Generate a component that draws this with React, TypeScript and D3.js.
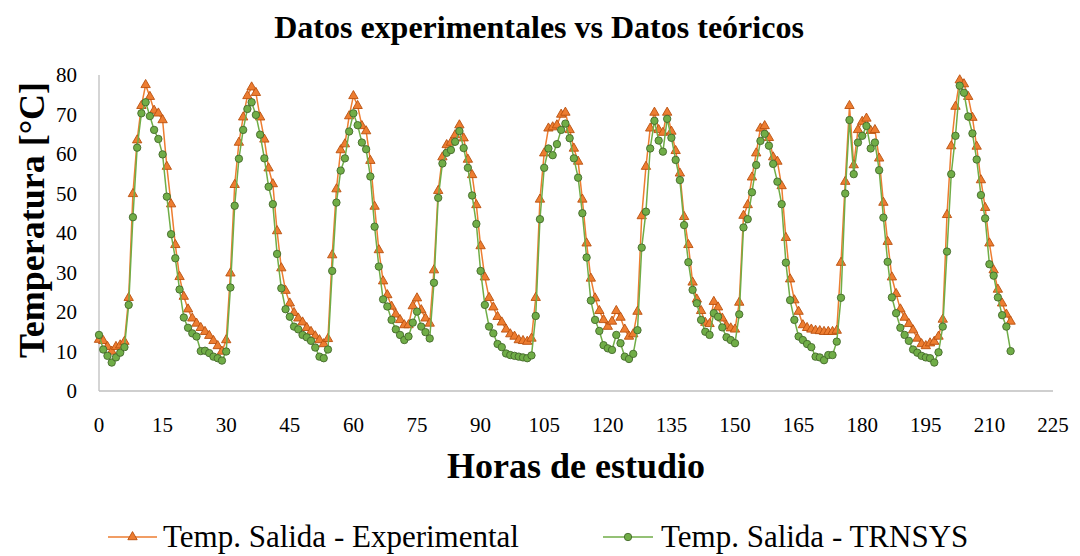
import React from 'react';
import * as d3 from 'd3';

const experimental: number[] = [
  13.0, 12.7, 11.2, 10.0, 11.2, 11.6, 12.5, 23.6, 49.9, 63.5,
  72.2, 77.5, 74.5, 71.0, 70.3, 68.6, 56.8, 47.3, 37.0, 28.9,
  23.9, 20.7, 18.4, 17.1, 16.0, 15.0, 14.0, 12.7, 11.4, 10.0,
  12.9, 29.8, 52.2, 62.9, 69.3, 74.7, 76.9, 75.5, 69.3, 63.7,
  56.4, 52.4, 40.5, 31.1, 25.4, 22.2, 19.8, 18.4, 17.4, 16.0,
  15.0, 13.9, 12.9, 11.9, 13.2, 34.4, 51.1, 61.0, 62.5, 69.6,
  74.7, 72.2, 67.1, 65.8, 58.3, 46.7, 35.7, 27.8, 24.3, 21.4,
  19.4, 18.0, 16.7, 16.7, 21.5, 23.5, 20.5, 18.4, 17.1, 30.6,
  50.7, 59.2, 62.3, 62.9, 64.8, 67.3, 64.0, 58.6, 54.7, 47.1,
  36.7, 28.8, 23.6, 21.2, 18.8, 17.4, 15.6, 14.4, 13.8, 12.9,
  12.7, 12.5, 13.3, 23.6, 48.5, 60.2, 66.5, 66.8, 67.3, 70.0,
  70.5, 66.1, 61.4, 58.1, 48.5, 37.4, 28.5, 23.5, 20.3, 18.0,
  16.3, 17.6, 20.3, 18.6, 15.6, 13.8, 14.4, 20.1, 44.3, 56.8,
  66.5, 70.5, 66.1, 65.4, 70.5, 65.7, 60.8, 55.1, 44.1, 37.0,
  27.5, 23.2, 20.3, 17.3, 17.0, 22.6, 21.2, 18.4, 16.5, 15.9,
  15.6, 22.4, 44.4, 47.1, 54.1, 60.2, 66.5, 67.1, 64.1, 59.2,
  58.1, 51.9, 38.8, 28.3, 23.0, 20.1, 16.7, 16.0, 15.6, 15.3,
  15.2, 15.0, 15.0, 15.0, 15.3, 32.5, 53.0, 72.2, 57.2, 66.1,
  68.2, 69.0, 65.9, 66.1, 58.9, 47.7, 37.8, 28.8, 24.6, 20.7,
  18.6, 17.0, 15.4, 13.3, 11.9, 11.4, 12.1, 12.5, 13.8, 18.1,
  44.6, 62.0, 72.0, 78.7, 77.7, 74.5, 69.2, 61.9, 53.4, 46.4,
  37.4, 30.6, 25.7, 22.2, 19.4, 17.6,
];

const trnsys: number[] = [
  14.2, 10.5, 8.9, 7.2, 8.5, 9.7, 11.1, 21.8, 44.0, 61.6,
  70.3, 73.1, 69.6, 66.1, 63.8, 59.9, 49.2, 39.7, 33.6, 25.7,
  18.6, 16.0, 14.6, 13.8, 10.1, 10.2, 9.6, 8.7, 8.3, 7.7,
  10.0, 26.2, 46.9, 58.8, 66.1, 71.4, 73.1, 69.9, 64.9, 58.9,
  51.7, 47.3, 34.7, 26.0, 20.7, 18.8, 16.3, 15.6, 14.2, 13.6,
  12.7, 11.0, 8.7, 8.3, 10.5, 30.4, 47.7, 55.8, 58.9, 65.7,
  70.3, 67.3, 62.9, 61.2, 54.3, 41.6, 31.5, 23.2, 21.4, 18.0,
  15.6, 14.2, 12.9, 13.8, 17.3, 20.1, 16.3, 14.9, 13.3, 27.4,
  48.9, 57.6, 60.3, 61.0, 63.1, 65.8, 61.5, 56.5, 49.5, 42.3,
  30.4, 21.8, 16.3, 14.6, 11.9, 11.1, 9.5, 9.1, 8.9, 8.7,
  8.5, 8.3, 9.0, 19.0, 43.5, 56.5, 61.4, 59.7, 62.5, 66.1,
  67.7, 64.0, 58.9, 54.0, 45.0, 33.8, 22.9, 18.0, 15.2, 11.6,
  10.8, 10.4, 14.2, 12.1, 8.7, 8.1, 9.4, 15.4, 36.3, 45.4,
  61.4, 68.4, 63.4, 60.6, 68.9, 64.1, 58.5, 53.4, 42.0, 32.6,
  25.6, 22.2, 18.0, 15.0, 14.2, 19.7, 18.8, 16.1, 13.6, 12.9,
  12.1, 19.4, 41.4, 43.5, 50.3, 57.2, 63.3, 65.1, 62.1, 57.5,
  53.0, 47.3, 32.5, 23.0, 18.0, 13.8, 12.9, 11.9, 11.1, 8.7,
  8.5, 7.8, 9.1, 9.1, 12.5, 23.6, 50.0, 68.6, 54.9, 62.9,
  64.6, 67.1, 61.4, 62.9, 55.9, 43.9, 32.7, 23.7, 19.7, 16.0,
  14.2, 12.7, 10.5, 9.7, 8.9, 8.5, 8.3, 7.2, 9.8, 16.3,
  35.3, 54.9, 64.6, 77.3, 75.5, 69.5, 65.2, 58.6, 49.6, 43.7,
  32.1, 29.2, 23.7, 19.2, 16.3, 10.1,
];

const xTickValues = [0, 15, 30, 45, 60, 75, 90, 105, 120, 135, 150, 165, 180, 195, 210, 225];
const yTickValues = [0, 10, 20, 30, 40, 50, 60, 70, 80];

const title = 'Datos experimentales vs Datos teóricos';
const xTitle = 'Horas de estudio';
const yTitle = 'Temperatura [°C]';
const seriesNames = ['Temp. Salida - Experimental', 'Temp. Salida - TRNSYS'];

const FONT = '"Liberation Serif", "Times New Roman", serif';
const ORANGE = '#ed7d31';
const ORANGE_DARK = '#b9500f';
const GREEN = '#70ad47';
const GREEN_DARK = '#44692b';

export default function App() {
  const W = 1080;
  const H = 556;
  const x = d3.scaleLinear().domain([0, 225]).range([99, 1053]);
  const y = d3.scaleLinear().domain([0, 80]).range([391, 75]);

  const line = d3
    .line<number>()
    .x((_, i) => x(i))
    .y((d) => y(d));

  const tri = d3.symbol().type(d3.symbolTriangle).size(38)() as string;

  return (
    <svg
      width={W}
      height={H}
      viewBox={`0 0 ${W} ${H}`}
      style={{ position: 'absolute', left: 0, top: 0, background: '#fff' }}
      fontFamily={FONT}
    >
      <rect x={0} y={0} width={W} height={H} fill="#fff" />
      <text x={539} y={38} textAnchor="middle" fontSize={32} fontWeight="bold" fill="#000">
        {title}
      </text>

      {/* axes */}
      <line x1={x(0)} x2={x(0)} y1={y(80)} y2={y(0)} stroke="#bfbfbf" strokeWidth={1.3} />
      <line x1={x(0)} x2={x(225)} y1={y(0)} y2={y(0)} stroke="#bfbfbf" strokeWidth={1.3} />

      {yTickValues.map((v) => (
        <text key={'y' + v} x={77} y={y(v) + 7} textAnchor="end" fontSize={21} fill="#000">
          {v}
        </text>
      ))}
      {xTickValues.map((v) => (
        <text key={'x' + v} x={x(v)} y={432} textAnchor="middle" fontSize={21} fill="#000">
          {v}
        </text>
      ))}

      <text x={576} y={478} textAnchor="middle" fontSize={36} fontWeight="bold" fill="#000">
        {xTitle}
      </text>
      <text
        transform={`translate(44, ${220}) rotate(-90)`}
        textAnchor="middle"
        fontSize={36}
        fontWeight="bold"
        fill="#000"
      >
        {yTitle}
      </text>

      {/* experimental series */}
      <path d={line(experimental) || ''} fill="none" stroke={ORANGE} strokeWidth={1.5} />
      {experimental.map((v, i) => (
        <path
          key={'e' + i}
          d={tri}
          transform={`translate(${x(i)},${y(v)})`}
          fill={ORANGE}
          stroke={ORANGE_DARK}
          strokeWidth={0.9}
        />
      ))}

      {/* trnsys series */}
      <path d={line(trnsys) || ''} fill="none" stroke={GREEN} strokeWidth={1.5} />
      {trnsys.map((v, i) => (
        <circle
          key={'t' + i}
          cx={x(i)}
          cy={y(v)}
          r={3.7}
          fill={GREEN}
          stroke={GREEN_DARK}
          strokeWidth={0.9}
        />
      ))}

      {/* legend */}
      <line x1={108} x2={157} y1={537} y2={537} stroke={ORANGE} strokeWidth={1.5} />
      <path d={tri} transform="translate(132.5,537)" fill={ORANGE} stroke={ORANGE_DARK} strokeWidth={0.9} />
      <text x={163} y={547} fontSize={31} fill="#000">
        {seriesNames[0]}
      </text>
      <line x1={603} x2={653} y1={537} y2={537} stroke={GREEN} strokeWidth={1.5} />
      <circle cx={628} cy={537} r={3.7} fill={GREEN} stroke={GREEN_DARK} strokeWidth={0.9} />
      <text x={661} y={547} fontSize={31} fill="#000">
        {seriesNames[1]}
      </text>
    </svg>
  );
}
